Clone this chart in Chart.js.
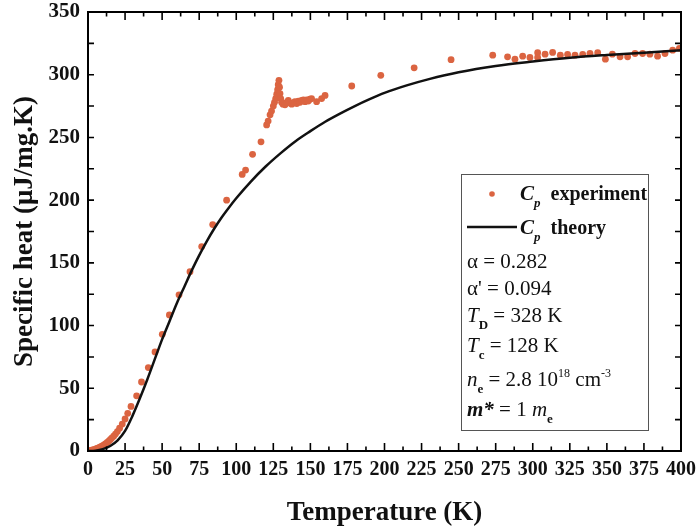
<!DOCTYPE html>
<html>
<head>
<meta charset="utf-8">
<script src="https://cdn.jsdelivr.net/npm/chart.js@4.4.1/dist/chart.umd.min.js"></script>
<style>
  html, body { margin: 0; padding: 0; background: #fff; }
  #wrap { width: 697px; height: 527px; }
</style>
</head>
<body>
<div id="wrap"><canvas id="cpChart"></canvas></div>
<script>
// measured specific heat (temperature in K, Cp in uJ/mg.K)
const expTemp = [1, 2, 3, 4, 5, 6, 7, 8, 9, 10, 11, 12, 13, 14, 15, 16,
  17.3, 18.5, 19.8, 21.3, 23.1, 25, 26.8, 29, 32.8, 36.1, 40.7, 45.2, 50.1, 54.9,
  61.4, 68.8, 76.7, 84.1, 93.5, 104, 106.3, 111, 116.7, 120.5, 121.5, 122.8, 123.8,
  125, 125.8, 126.6, 127.3, 127.9, 128.3, 128.8, 129.2, 129.5, 130, 130.6, 131.5,
  132.9, 134, 135.1, 136.2, 137.4, 138.5, 139.6, 140.8, 141.9, 143, 144.1, 145.3,
  146.4, 147.5, 148.6, 149.7, 150.8, 154.2, 157.6, 159.9, 177.9, 197.5, 220, 244.9,
  273, 283, 288, 293.2, 298.1, 303.3, 303.3, 308.3, 313.4, 318.6, 323.5, 328.5,
  333.7, 338.6, 343.8, 349, 353.7, 358.9, 364, 369, 374.1, 379, 384.2, 389.2,
  394.4, 398.9];
const expCp = [0.3, 0.5, 0.8, 1.1, 1.5, 2, 2.5, 3, 3.6, 4.3, 5, 5.8, 6.8, 7.8, 9, 10.3,
  11.8, 13.5, 15.5, 18.2, 21.5, 25.5, 30, 35.5, 44, 55, 66.5, 79, 93, 108.5,
  124.5, 143, 163, 180.5, 200, 220.5, 224, 236.5, 246.5, 260, 263, 268, 271,
  275, 278, 281, 284.5, 288, 292, 295.5, 290, 285, 281, 278, 276.5,
  276, 278, 279.5, 277.5, 276.5, 277.5, 278.5, 277, 279, 278, 279.5, 280,
  278.5, 280, 279, 280.5, 281, 278.5, 281, 283.5, 291, 299.5, 305.5, 312,
  315.6, 314.3, 312.4, 314.8, 313.8, 317.6, 313.8, 316.4, 317.8, 315.6, 316.2, 315.6,
  316.2, 316.9, 317.6, 312.4, 316.4, 314.3, 314.3, 316.9, 316.9, 316.4, 314.8, 316.9,
  319.6, 321];

// model curve
const thTemp = [0, 5, 10, 15, 20, 25, 30, 35, 40, 45, 50, 55, 60, 65, 70, 75, 80, 85,
  90, 95, 100, 110, 120, 130, 140, 150, 160, 170, 180, 190, 200, 215, 230, 250, 275,
  300, 325, 350, 375, 400];
const thCp = [0, 0.3, 1.5, 4, 8.5, 16, 28, 42, 57, 73, 89, 103.5, 118, 131, 144, 156,
  167, 177, 186, 194, 201.5, 215, 227, 237.5, 247, 255, 262.5, 269, 275, 280.5, 285.5,
  291.5, 296.5, 302, 307, 310.5, 313.5, 315.7, 317.6, 319.5];

const xTicks = [0, 25, 50, 75, 100, 125, 150, 175, 200, 225, 250, 275, 300, 325, 350, 375, 400];
const yTicks = [0, 50, 100, 150, 200, 250, 300, 350];

const SERIF = "'Liberation Serif', 'Times New Roman', serif";
const DOT = '#db6441';

// box with inward ticks on all four sides
const framePlugin = {
  id: 'frame',
  afterDatasetsDraw(chart) {
    const { ctx, chartArea: a, scales: { x, y } } = chart;
    ctx.save();
    ctx.strokeStyle = '#000';
    ctx.lineWidth = 2;
    ctx.strokeRect(a.left, a.top, a.right - a.left, a.bottom - a.top);
    ctx.lineWidth = 1.6;
    ctx.beginPath();
    for (let t = 0; t <= 400; t += 12.5) {
      const px = x.getPixelForValue(t);
      const len = t % 25 === 0 ? 8 : 4.5;
      ctx.moveTo(px, a.bottom); ctx.lineTo(px, a.bottom - len);
      ctx.moveTo(px, a.top); ctx.lineTo(px, a.top + len);
    }
    for (let v = 0; v <= 350; v += 25) {
      const py = y.getPixelForValue(v);
      const len = 6;
      ctx.moveTo(a.left, py); ctx.lineTo(a.left + len, py);
      ctx.moveTo(a.right, py); ctx.lineTo(a.right - len, py);
    }
    ctx.stroke();
    ctx.restore();
  }
};

function runs(ctx, x, y, parts) {
  for (const p of parts) {
    ctx.font = p.font;
    ctx.fillText(p.text, x, y + (p.dy || 0));
    x += ctx.measureText(p.text).width;
  }
}

// legend box with fit parameters
const notePlugin = {
  id: 'note',
  afterDraw(chart) {
    const ctx = chart.ctx;
    const L = 461, T = 174, R = 648, B = 430;
    ctx.save();
    ctx.fillStyle = '#fff';
    ctx.fillRect(L, T, R - L, B - T);
    ctx.strokeStyle = '#555';
    ctx.lineWidth = 1;
    ctx.strokeRect(L + 0.5, T + 0.5, R - L, B - T);

    ctx.fillStyle = DOT;
    ctx.beginPath();
    ctx.arc(492, 194, 2.8, 0, Math.PI * 2);
    ctx.fill();
    ctx.strokeStyle = '#111';
    ctx.lineWidth = 2.5;
    ctx.beginPath();
    ctx.moveTo(467, 227); ctx.lineTo(517, 227);
    ctx.stroke();

    ctx.fillStyle = '#111';
    ctx.textBaseline = 'alphabetic';
    const big = '21px ' + SERIF, bold = 'bold 20px ' + SERIF;
    const it = 'italic 21px ' + SERIF, itb = 'italic bold 21px ' + SERIF;
    const sub = 'bold 13px ' + SERIF, subi = 'italic bold 13px ' + SERIF;
    runs(ctx, 520, 200, [{ text: 'C', font: itb }, { text: 'p', font: subi, dy: 7 },
      { text: '  experiment', font: bold }]);
    runs(ctx, 520, 234, [{ text: 'C', font: itb }, { text: 'p', font: subi, dy: 7 },
      { text: '  theory', font: bold }]);
    runs(ctx, 467, 268, [{ text: 'α = 0.282', font: big }]);
    runs(ctx, 467, 295, [{ text: "α' = 0.094", font: big }]);
    runs(ctx, 467, 322, [{ text: 'T', font: it }, { text: 'D', font: sub, dy: 7 },
      { text: ' = 328 K', font: big }]);
    runs(ctx, 467, 352, [{ text: 'T', font: it }, { text: 'c', font: sub, dy: 7 },
      { text: ' = 128 K', font: big }]);
    runs(ctx, 467, 386, [{ text: 'n', font: it }, { text: 'e', font: sub, dy: 7 },
      { text: ' = 2.8 10', font: big }, { text: '18', font: '12px ' + SERIF, dy: -9 },
      { text: ' cm', font: big }, { text: '-3', font: '12px ' + SERIF, dy: -9 }]);
    runs(ctx, 467, 416, [{ text: 'm*', font: itb }, { text: ' = 1 ', font: big },
      { text: 'm', font: it }, { text: 'e', font: sub, dy: 7 }]);
    ctx.restore();
  }
};

const expPoints = expTemp.map((t, i) => ({ x: t, y: expCp[i] }));
const thPoints = thTemp.map((t, i) => ({ x: t, y: thCp[i] }));

new Chart(document.getElementById('cpChart'), {
  type: 'scatter',
  data: {
    datasets: [
      {
        label: 'Cp experiment',
        data: expPoints,
        pointRadius: 3.4,
        pointBackgroundColor: DOT,
        pointBorderWidth: 0,
        showLine: false,
        order: 2
      },
      {
        label: 'Cp theory',
        data: thPoints,
        showLine: true,
        borderColor: '#111',
        borderWidth: 2.5,
        pointRadius: 0,
        cubicInterpolationMode: 'monotone',
        order: 1
      }
    ]
  },
  options: {
    responsive: true,
    maintainAspectRatio: false,
    animation: false,
    layout: { padding: { top: 12, right: 16, left: 0, bottom: 0 } },
    plugins: { legend: { display: false }, tooltip: { enabled: false } },
    scales: {
      x: {
        type: 'linear',
        min: 0,
        max: 400,
        afterBuildTicks: s => { s.ticks = xTicks.map(v => ({ value: v })); },
        afterFit: s => { s.height = 76; s.paddingLeft = 0; s.paddingRight = 0; },
        grid: { display: false, drawTicks: false },
        border: { display: false },
        ticks: { color: '#111', padding: 7, maxRotation: 0, autoSkip: false,
          font: { family: SERIF, size: 20, weight: 'bold' } },
        title: { display: true, text: 'Temperature (K)', color: '#111',
          padding: { top: 0, bottom: -2 },
          font: { family: SERIF, size: 27, weight: 'bold' } }
      },
      y: {
        min: 0,
        max: 350,
        afterBuildTicks: s => { s.ticks = yTicks.map(v => ({ value: v })); },
        afterFit: s => { s.width = 88; s.paddingTop = 0; s.paddingBottom = 0; },
        grid: { display: false, drawTicks: false },
        border: { display: false },
        ticks: { color: '#111', padding: 8,
          font: { family: SERIF, size: 21, weight: 'bold' } },
        title: { display: true, text: 'Specific heat (μJ/mg.K)', color: '#111',
          padding: { top: 9, bottom: 0 },
          font: { family: SERIF, size: 27, weight: 'bold' } }
      }
    }
  },
  plugins: [framePlugin, notePlugin]
});
</script>
</body>
</html>
